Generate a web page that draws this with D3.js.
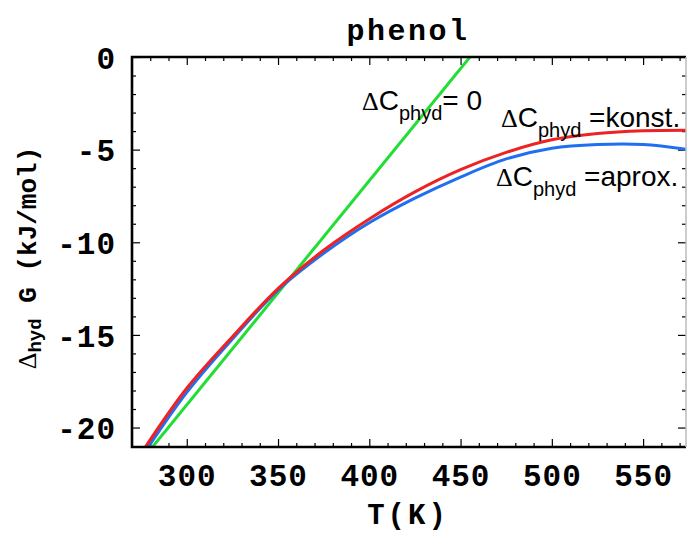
<!DOCTYPE html>
<html>
<head>
<meta charset="utf-8">
<script src="https://cdn.jsdelivr.net/npm/d3@7/dist/d3.min.js"></script>
<style>
	body { margin: 0; background: #fff; }
	.tick text { font-family: 'Liberation Mono', monospace; font-weight: bold; }
</style>
</head>
<body>
<div id="chart"></div>
<script>
'use strict'

// values
var temps = [275, 300, 325, 350, 375, 400, 425, 450, 475, 500, 525, 550, 575];
var konstValues = [-21.4, -17.88, -15.1, -12.5, -10.43, -8.74, -7.28, -6.08, -5.15, -4.47, -4.13, -3.98, -3.95];
var aproxValues = [-21.63, -18.1, -15.22, -12.58, -10.6, -8.95, -7.62, -6.48, -5.5, -4.92, -4.72, -4.72, -5.0];
var zeroTemps = [275, 475];
var zeroValues = [-21.8, 2.4];

var xTicks = [300, 350, 400, 450, 500, 550];
var yTicks = [0, -5, -10, -15, -20];

var dimensions = { width: 687, height: 534 };
var padding = { top: 57, right: 1, bottom: 87, left: 132 };

var svg = d3.select('#chart')
	.append('svg')
	.attr('width', dimensions.width)
	.attr('height', dimensions.height);

var x = d3.scaleLinear()
	.domain([270, 573.5])
	.range([padding.left, dimensions.width - padding.right]);

var y = d3.scaleLinear()
	.domain([-21.05, 0])
	.range([dimensions.height - padding.bottom, padding.top]);

var x0 = padding.left, x1 = dimensions.width - padding.right;
var y0 = padding.top, y1 = dimensions.height - padding.bottom;

svg.append('clipPath').attr('id', 'plot-clip')
	.append('rect')
	.attr('x', x0).attr('y', y0)
	.attr('width', x1 - x0).attr('height', y1 - y0);

// minor ticks
var xMinor = d3.range(280, 574, 10).filter(function(d) { return d % 50 !== 0; });
var yMinor = d3.range(-21, 0, 1).filter(function(d) { return d % 5 !== 0; });

function tickGroup(axis, transform) {
	var g = svg.append('g').attr('transform', transform).call(axis);
	g.select('.domain').remove();
	g.selectAll('.tick line').attr('stroke', '#000').attr('stroke-width', 1.2);
	return g;
}

tickGroup(d3.axisBottom(x).tickValues(xMinor).tickSize(-4).tickFormat(''), 'translate(0,' + y1 + ')');
tickGroup(d3.axisTop(x).tickValues(xMinor).tickSize(-4).tickFormat(''), 'translate(0,' + y0 + ')');
tickGroup(d3.axisTop(x).tickValues(xTicks).tickSize(-8).tickFormat(''), 'translate(0,' + y0 + ')');
tickGroup(d3.axisLeft(y).tickValues(yMinor).tickSize(-4).tickFormat(''), 'translate(' + x0 + ',0)');
tickGroup(d3.axisRight(y).tickValues(yMinor).tickSize(-4).tickFormat(''), 'translate(' + x1 + ',0)');
tickGroup(d3.axisRight(y).tickValues(yTicks).tickSize(-8).tickFormat(''), 'translate(' + x1 + ',0)');

var xAxis = tickGroup(d3.axisBottom(x).tickValues(xTicks).tickSize(-8).tickPadding(17)
	.tickFormat(d3.format('d')), 'translate(0,' + y1 + ')');
xAxis.selectAll('.tick text').attr('font-size', 31).attr('letter-spacing', 1).attr('fill', '#000').attr('dy', '0.72em');

var yAxis = tickGroup(d3.axisLeft(y).tickValues(yTicks).tickSize(-8).tickPadding(16)
	.tickFormat(function(d) { return d === 0 ? '0' : '-' + Math.abs(d); }), 'translate(' + x0 + ',0)');
yAxis.selectAll('.tick text').attr('font-size', 31).attr('letter-spacing', 1).attr('fill', '#000').attr('dy', '0.36em');

// curves
var line = d3.line()
	.curve(d3.curveCatmullRom)
	.x(function(d) { return x(d[0]); })
	.y(function(d) { return y(d[1]); });

var series = [
	{ t: zeroTemps, v: zeroValues, color: '#22dd33' },
	{ t: temps, v: aproxValues, color: '#1f6ff0' },
	{ t: temps, v: konstValues, color: '#ee2222' }
];

series.forEach(function(s) {
	svg.append('path')
		.datum(s.t.map(function(t, i) { return [t, s.v[i]]; }))
		.attr('d', line)
		.attr('clip-path', 'url(#plot-clip)')
		.attr('fill', 'none')
		.attr('stroke', s.color)
		.attr('stroke-width', 3);
});

// frame
svg.append('path')
	.attr('d', 'M' + x1 + ',' + y0 + 'H' + x0 + 'V' + y1 + 'H' + x1)
	.attr('fill', 'none')
	.attr('stroke', '#000')
	.attr('stroke-width', 2.6);
svg.append('line')
	.attr('x1', x1).attr('x2', x1).attr('y1', y0).attr('y2', y1)
	.attr('stroke', '#bbb').attr('stroke-width', 1.5);

// titles
svg.append('text')
	.attr('x', 408).attr('y', 40)
	.attr('text-anchor', 'middle')
	.attr('font-family', 'Liberation Mono, monospace')
	.attr('font-weight', 'bold')
	.attr('font-size', 30)
	.attr('letter-spacing', 2.5)
	.text('phenol');

svg.append('text')
	.attr('x', 408).attr('y', 524)
	.attr('text-anchor', 'middle')
	.attr('font-family', 'Liberation Mono, monospace')
	.attr('font-weight', 'bold')
	.attr('font-size', 29)
	.attr('letter-spacing', 3)
	.text('T(K)');

var yTitle = svg.append('text')
	.attr('transform', 'translate(36,258) rotate(-90)')
	.attr('text-anchor', 'middle')
	.attr('font-family', 'Liberation Mono, monospace')
	.attr('font-weight', 'bold')
	.attr('font-size', 26);
yTitle.append('tspan').attr('font-family', 'Liberation Serif, serif').attr('font-weight', 'normal').text('\u0394');
yTitle.append('tspan').attr('font-size', 19).attr('dy', 5).text('hyd');
yTitle.append('tspan').attr('dy', -5).text(' G  (kJ/mol)');

// annotations
function label(px, py, rest) {
	var t = svg.append('text')
		.attr('x', px).attr('y', py)
		.attr('font-family', 'Liberation Sans, Arial, sans-serif')
		.attr('font-size', 28);
	t.append('tspan').attr('font-family', 'Liberation Serif, serif').attr('font-size', 26).text('\u0394');
	t.append('tspan').text('C');
	t.append('tspan').attr('font-size', 20).attr('dy', 10).text('phyd');
	t.append('tspan').attr('dy', -10).text(rest);
}

label(362, 110, '= 0');
label(501, 127, ' =konst.');
label(496, 186, ' =aprox.');
</script>
</body>
</html>
